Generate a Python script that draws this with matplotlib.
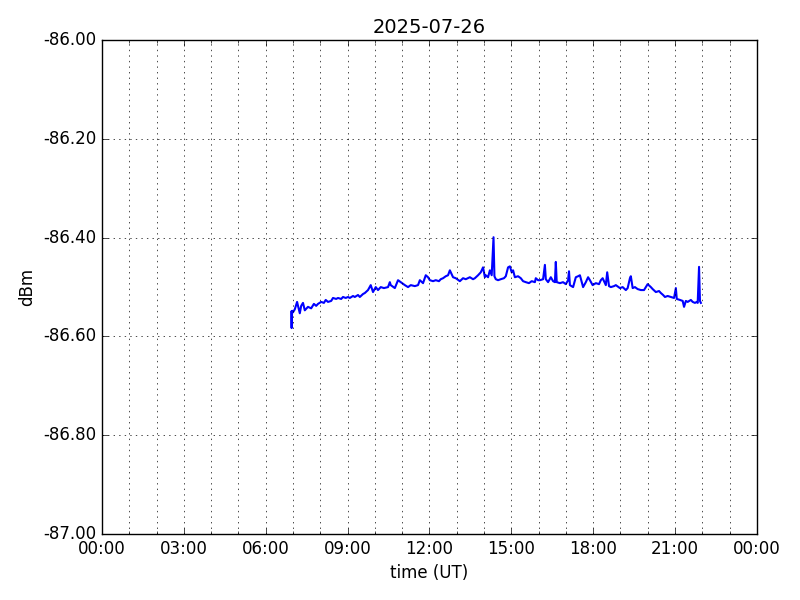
import matplotlib
matplotlib.use("Agg")
import matplotlib.pyplot as plt
import matplotlib.dates as mdates
import matplotlib.ticker as mticker
import pandas as pd

plt.style.use("classic")

date_str = "2025-07-26"

times = [
    "06:56", "06:57", "06:58", "07:00", "07:04", "07:09", "07:15", "07:18", "07:22", "07:26",
    "07:33", "07:40", "07:46", "07:51", "07:55", "08:02", "08:08", "08:12", "08:17", "08:24",
    "08:28", "08:35", "08:39", "08:46", "08:50", "08:56", "09:01", "09:05", "09:12", "09:16",
    "09:23", "09:27", "09:34", "09:38", "09:45", "09:51", "09:56", "10:02", "10:07", "10:13",
    "10:20", "10:29", "10:33", "10:35", "10:44", "10:51", "10:57", "11:06", "11:13", "11:19",
    "11:28", "11:35", "11:39", "11:46", "11:52", "11:57", "12:01", "12:08", "12:14", "12:21",
    "12:25", "12:30", "12:36", "12:41", "12:45", "12:52", "12:58", "13:07", "13:14", "13:20",
    "13:29", "13:36", "13:40", "13:47", "13:53", "13:58", "14:02", "14:04", "14:09", "14:13",
    "14:17", "14:21", "14:23", "14:26", "14:31", "14:37", "14:44", "14:48", "14:53", "14:57",
    "15:01", "15:04", "15:08", "15:15", "15:21", "15:26", "15:32", "15:39", "15:45", "15:52",
    "15:54", "15:59", "16:03", "16:10", "16:14", "16:16", "16:21", "16:27", "16:32", "16:36",
    "16:38", "16:40", "16:47", "16:54", "17:00", "17:05", "17:07", "17:09", "17:16", "17:22",
    "17:27", "17:31", "17:38", "17:44", "17:49", "17:53", "17:59", "18:06", "18:13", "18:17",
    "18:21", "18:28", "18:31", "18:35", "18:39", "18:46", "18:50", "18:59", "19:05", "19:12",
    "19:16", "19:21", "19:23", "19:27", "19:32", "19:38", "19:45", "19:52", "19:56", "20:00",
    "20:07", "20:11", "20:18", "20:25", "20:29", "20:34", "20:38", "20:44", "20:51", "20:58",
    "21:02", "21:04", "21:11", "21:17", "21:20", "21:24", "21:28", "21:35", "21:39", "21:44",
    "21:48", "21:50", "21:53", "21:55", "21:57",
]

dbm = [
    -86.550, -86.583, -86.548, -86.551, -86.545, -86.530, -86.553, -86.538, -86.532, -86.547,
    -86.540, -86.543, -86.534, -86.538, -86.534, -86.530, -86.532, -86.526, -86.530, -86.528,
    -86.522, -86.524, -86.522, -86.524, -86.520, -86.522, -86.520, -86.522, -86.518, -86.520,
    -86.516, -86.520, -86.514, -86.512, -86.506, -86.496, -86.510, -86.500, -86.506, -86.500,
    -86.502, -86.500, -86.490, -86.496, -86.502, -86.486, -86.490, -86.496, -86.500, -86.496,
    -86.498, -86.496, -86.486, -86.492, -86.476, -86.480, -86.486, -86.488, -86.486, -86.488,
    -86.484, -86.482, -86.478, -86.476, -86.466, -86.480, -86.482, -86.488, -86.482, -86.484,
    -86.480, -86.484, -86.482, -86.476, -86.470, -86.460, -86.480, -86.476, -86.480, -86.466,
    -86.476, -86.399, -86.478, -86.484, -86.486, -86.484, -86.482, -86.478, -86.460, -86.458,
    -86.470, -86.466, -86.480, -86.478, -86.482, -86.488, -86.490, -86.492, -86.488, -86.490,
    -86.482, -86.486, -86.486, -86.484, -86.455, -86.484, -86.490, -86.480, -86.488, -86.490,
    -86.449, -86.490, -86.492, -86.490, -86.494, -86.486, -86.468, -86.496, -86.500, -86.480,
    -86.478, -86.476, -86.500, -86.490, -86.480, -86.486, -86.496, -86.492, -86.494, -86.486,
    -86.482, -86.496, -86.470, -86.498, -86.500, -86.498, -86.496, -86.502, -86.500, -86.506,
    -86.502, -86.482, -86.478, -86.502, -86.500, -86.504, -86.506, -86.506, -86.500, -86.494,
    -86.500, -86.504, -86.510, -86.508, -86.512, -86.516, -86.520, -86.518, -86.520, -86.522,
    -86.502, -86.524, -86.526, -86.528, -86.540, -86.528, -86.530, -86.526, -86.530, -86.532,
    -86.530, -86.532, -86.459, -86.528, -86.532,
]

ylim = (-87.0, -86.0)
title = date_str
xlabel = "time (UT)"
ylabel = "dBm"

x = pd.to_datetime([f"{date_str} {t}" for t in times])

fig = plt.figure(figsize=(8, 6), dpi=100, facecolor="white")
ax = fig.add_subplot(111)
fig.subplots_adjust(left=0.1275, right=0.946, bottom=0.11, top=0.933)

ax.plot(x, dbm, color="blue", linewidth=1.5)

start = pd.Timestamp(date_str)
ax.set_xlim(start, start + pd.Timedelta(days=1))
ax.set_ylim(*ylim)

ax.xaxis.set_major_locator(mdates.HourLocator(byhour=range(0, 24, 3)))
ax.xaxis.set_minor_locator(mdates.HourLocator())
ax.xaxis.set_major_formatter(mdates.DateFormatter("%H:%M"))
ax.yaxis.set_major_locator(mticker.MultipleLocator(0.2))
ax.yaxis.set_major_formatter(mticker.FormatStrFormatter("%.2f"))

ax.grid(True, which="major", axis="both", color="black", linestyle=":", linewidth=0.5)
ax.grid(True, which="minor", axis="x", color="black", linestyle=":", linewidth=0.5)

ax.set_title(title, fontsize=14)
ax.set_xlabel(xlabel, fontsize=12)
ax.set_ylabel(ylabel, fontsize=12)
ax.tick_params(labelsize=12)

fig.savefig("out.png", dpi=100, facecolor="white")
